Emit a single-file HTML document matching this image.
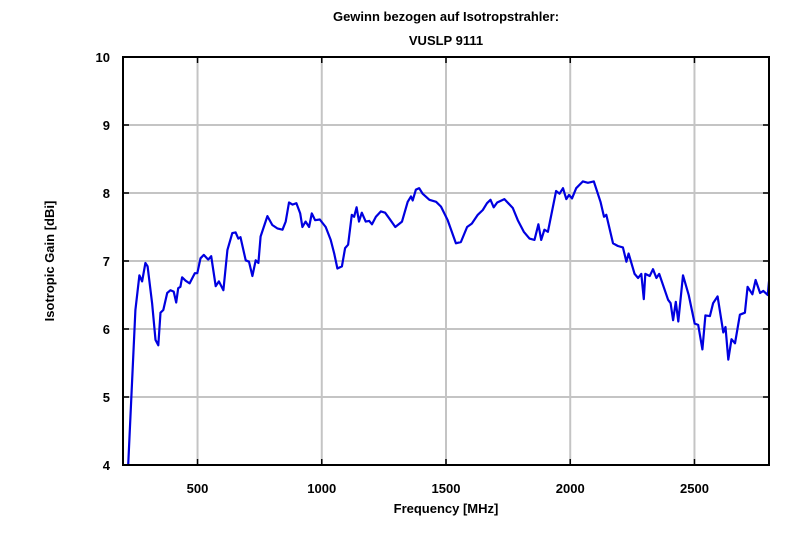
<!DOCTYPE html>
<html><head><meta charset="utf-8"><style>
body{margin:0;background:#fff;}
svg{display:block;font-family:"Liberation Sans",Arial,sans-serif;font-weight:bold;}
</style></head><body>
<svg id="chart" width="800" height="543">
<text x="446" y="21" text-anchor="middle" font-size="13">Gewinn bezogen auf Isotropstrahler:</text>
<text x="446" y="45" text-anchor="middle" font-size="13">VUSLP 9111</text>
<text transform="translate(54,261) rotate(-90)" text-anchor="middle" font-size="13">Isotropic Gain [dBi]</text>
<text x="446" y="513" text-anchor="middle" font-size="13">Frequency [MHz]</text>
<g id="grid"></g><g id="ticks"></g>
<clipPath id="clip"><rect x="123" y="57" width="646" height="408"/></clipPath>
<path id="line" fill="none" stroke="#0000e0" stroke-width="2.2" stroke-linejoin="round" clip-path="url(#clip)"/>
<rect x="123" y="57" width="646" height="408" fill="none" stroke="#000" stroke-width="2"/>
</svg>
<script>
const freqs=[221,250,266,277,290,299,317,331,342,351,362,378,391,404,414,422,431,438,452,468,489,499,512,525,543,555,573,586,604,620,640,653,664,673,694,707,721,734,745,754,781,801,821,842,855,868,882,898,913,922,935,949,960,973,992,1016,1036,1050,1063,1081,1094,1106,1121,1130,1140,1150,1161,1177,1191,1202,1218,1238,1255,1271,1296,1323,1346,1359,1366,1379,1392,1406,1433,1460,1480,1507,1540,1560,1585,1604,1628,1648,1665,1679,1692,1706,1735,1769,1789,1813,1836,1856,1872,1883,1896,1910,1943,1957,1971,1984,1995,2007,2024,2051,2071,2095,2122,2136,2145,2172,2192,2212,2226,2235,2259,2273,2286,2296,2302,2320,2333,2347,2358,2394,2404,2414,2425,2435,2454,2477,2501,2515,2532,2544,2562,2575,2593,2616,2625,2636,2649,2663,2683,2703,2714,2733,2746,2764,2777,2795,2800];
const gains=[4.0,6.28,6.79,6.70,6.97,6.92,6.38,5.84,5.76,6.24,6.28,6.53,6.57,6.55,6.39,6.60,6.62,6.76,6.71,6.67,6.82,6.82,7.04,7.09,7.02,7.07,6.63,6.70,6.57,7.16,7.41,7.42,7.33,7.35,7.01,6.99,6.78,7.01,6.97,7.36,7.66,7.53,7.48,7.46,7.58,7.86,7.83,7.85,7.70,7.50,7.58,7.50,7.70,7.60,7.61,7.50,7.31,7.11,6.89,6.92,7.19,7.24,7.68,7.65,7.79,7.58,7.71,7.58,7.59,7.54,7.65,7.73,7.71,7.63,7.50,7.58,7.87,7.95,7.89,8.05,8.07,7.99,7.90,7.87,7.80,7.60,7.26,7.28,7.50,7.55,7.68,7.75,7.85,7.90,7.79,7.86,7.91,7.78,7.60,7.43,7.33,7.31,7.54,7.31,7.46,7.43,8.03,7.99,8.07,7.91,7.97,7.92,8.07,8.17,8.15,8.17,7.87,7.65,7.68,7.26,7.22,7.20,6.99,7.11,6.81,6.75,6.81,6.44,6.81,6.78,6.88,6.75,6.81,6.43,6.38,6.13,6.40,6.11,6.79,6.50,6.08,6.06,5.70,6.20,6.19,6.38,6.48,5.95,6.03,5.55,5.85,5.79,6.21,6.24,6.62,6.51,6.72,6.53,6.56,6.50,6.70];
const xTicks=[500,1000,1500,2000,2500];
const yTicks=[4,5,6,7,8,9,10];
const X0=200,X1=2800,Y0=4,Y1=10;
const xs=f=>123+(f-X0)/(X1-X0)*646;
const ys=g=>465-(g-Y0)/(Y1-Y0)*408;
const NS="http://www.w3.org/2000/svg";
const grid=document.getElementById('grid'),ticks=document.getElementById('ticks');
function mk(tag,at,parent){const e=document.createElementNS(NS,tag);for(const k in at)e.setAttribute(k,at[k]);parent.appendChild(e);return e;}
xTicks.forEach(t=>{
 const l=mk('line',{x1:xs(t),x2:xs(t),y1:57,y2:465,stroke:'#c4c4c4','stroke-width':2},grid);
 
 
 mk('line',{x1:xs(t),x2:xs(t),y1:459,y2:465,stroke:'#000','stroke-width':1.5},ticks);
 mk('line',{x1:xs(t),x2:xs(t),y1:57,y2:63,stroke:'#000','stroke-width':1.5},ticks);
 const tx=mk('text',{x:xs(t),y:493,'text-anchor':'middle','font-size':13},ticks);
 tx.textContent=t;
 
 
});
yTicks.forEach(t=>{
 if(t>Y0&&t<Y1){const l=mk('line',{x1:123,x2:769,y1:ys(t),y2:ys(t),stroke:'#c4c4c4','stroke-width':2},grid);
 
 }
 mk('line',{x1:123,x2:129,y1:ys(t),y2:ys(t),stroke:'#000','stroke-width':1.5},ticks);
 mk('line',{x1:763,x2:769,y1:ys(t),y2:ys(t),stroke:'#000','stroke-width':1.5},ticks);
 const tx=mk('text',{x:110,y:ys(t)+5,'text-anchor':'end','font-size':13},ticks);
 tx.textContent=t;
 
 
});
document.getElementById('line').setAttribute('d',freqs.map((f,i)=>(i?'L':'M')+xs(f).toFixed(1)+' '+ys(gains[i]).toFixed(1)).join(' '));
</script>
</body></html>
